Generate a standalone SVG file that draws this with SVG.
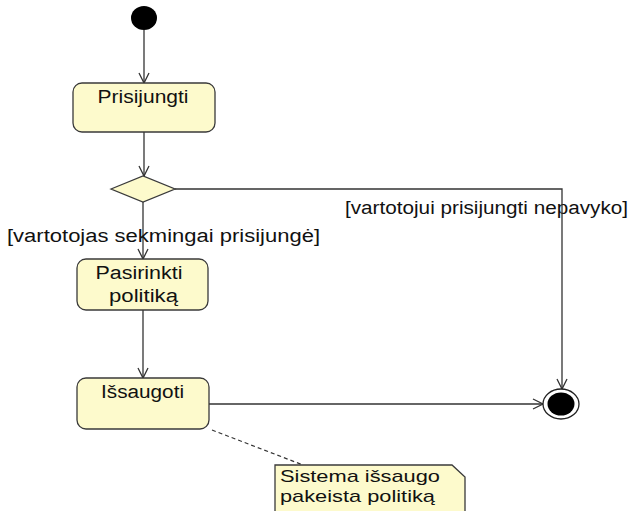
<svg xmlns="http://www.w3.org/2000/svg" width="636" height="511" viewBox="0 0 636 511">
  <style>
    .act { fill: #FDFACC; stroke: #3a3a3a; stroke-width: 1.3; }
    .flow { fill: none; stroke: #333; stroke-width: 1.3; marker-end: url(#open); }
    .lbl { font-family: "Liberation Sans", Arial, sans-serif; font-size: 18px; fill: #111; }
    .small { font-size: 17px; }
    .mid { text-anchor: middle; }
  </style>
  <defs>
    <marker id="open" markerUnits="userSpaceOnUse" markerWidth="14" markerHeight="14" refX="11" refY="6" orient="auto">
      <path d="M1,1 L11,6 L1,11" fill="none" stroke="#333" stroke-width="1.3"/>
    </marker>
  </defs>

  <rect width="636" height="511" fill="#ffffff"/>

  <!-- connectors -->
  <g id="connectors">
    <line class="flow" x1="144" y1="30" x2="144" y2="83"/>
    <line class="flow" x1="144" y1="132" x2="144" y2="176"/>
    <line class="flow" x1="143" y1="202" x2="143" y2="259"/>
    <line class="flow" x1="143" y1="310" x2="143" y2="378"/>
    <line class="flow" x1="209" y1="404" x2="543" y2="404"/>
    <polyline class="flow" points="175,189 562,189 562,389"/>
    <line x1="212" y1="430" x2="303" y2="465" stroke="#333" stroke-width="1.2" stroke-dasharray="4,3"/>
    <text class="lbl" x="7" y="242" textLength="313" lengthAdjust="spacingAndGlyphs">[vartotojas sekmingai prisijungė]</text>
    <text class="lbl" x="345" y="214" textLength="283" lengthAdjust="spacingAndGlyphs">[vartotojui prisijungti nepavyko]</text>
  </g>

  <!-- initial node -->
  <g id="start">
    <ellipse cx="144" cy="18" rx="13" ry="12" fill="#000"/>
  </g>

  <g id="prisijungti">
    <rect class="act" x="73" y="83" width="142" height="49" rx="9"/>
    <text class="lbl mid" x="143" y="103" textLength="91" lengthAdjust="spacingAndGlyphs">Prisijungti</text>
  </g>

  <g id="decision">
    <polygon class="act" points="111,189 143,176 175,189 143,202"/>
  </g>

  <g id="pasirinkti">
    <rect class="act" x="77" y="259" width="131" height="51" rx="9"/>
    <text class="lbl mid" x="139" y="279" textLength="87" lengthAdjust="spacingAndGlyphs">Pasirinkti</text>
    <text class="lbl mid" x="143.5" y="302" textLength="69" lengthAdjust="spacingAndGlyphs">politiką</text>
  </g>

  <g id="issaugoti">
    <rect class="act" x="77" y="378" width="132" height="51" rx="9"/>
    <text class="lbl mid" x="142.5" y="398" textLength="83" lengthAdjust="spacingAndGlyphs">Išsaugoti</text>
  </g>

  <!-- final node -->
  <g id="end">
    <ellipse cx="561" cy="404" rx="18" ry="15" fill="#fff" stroke="#222" stroke-width="1.3"/>
    <ellipse cx="561" cy="404" rx="13.5" ry="11.5" fill="#000"/>
  </g>

  <g id="note">
    <path class="act" d="M275,465 H452 L465,477 V520 H275 Z"/>
    <text class="lbl small" x="280" y="482" textLength="160" lengthAdjust="spacingAndGlyphs">Sistema išsaugo</text>
    <text class="lbl small" x="280" y="502" textLength="155" lengthAdjust="spacingAndGlyphs">pakeista politiką</text>
  </g>
</svg>
